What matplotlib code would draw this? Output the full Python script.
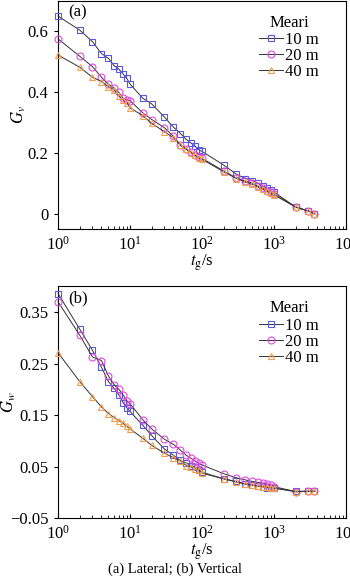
import numpy as np
import matplotlib

matplotlib.use("Agg")
import matplotlib.pyplot as plt

plt.rcParams["font.family"] = ["Liberation Serif", "DejaVu Serif"]
plt.rcParams["mathtext.fontset"] = "stix"

# --- data ---
t_g = [1, 2, 3, 4, 5, 6, 7, 8, 9, 10, 15, 20, 30, 40, 50, 60, 70, 80, 90, 100,
       200, 300, 400, 500, 600, 700, 800, 900, 1000, 2000, 3000, 3600]

gv_10 = [0.650, 0.604, 0.566, 0.527, 0.511, 0.487, 0.475, 0.460, 0.445, 0.426,
         0.380, 0.361, 0.318, 0.285, 0.264, 0.245, 0.233, 0.222, 0.210, 0.205,
         0.160, 0.130, 0.116, 0.109, 0.100, 0.090, 0.084, 0.077, 0.071,
         0.022, 0.009, 0.0]
gv_20 = [0.575, 0.518, 0.484, 0.449, 0.426, 0.413, 0.399, 0.380, 0.375, 0.372,
         0.332, 0.310, 0.283, 0.255, 0.226, 0.214, 0.203, 0.192, 0.187, 0.182,
         0.141, 0.117, 0.108, 0.101, 0.090, 0.084, 0.076, 0.071, 0.065,
         0.022, 0.009, 0.0]
gv_40 = [0.522, 0.482, 0.449, 0.435, 0.418, 0.408, 0.388, 0.375, 0.366, 0.348,
         0.323, 0.297, 0.270, 0.250, 0.225, 0.212, 0.201, 0.192, 0.182, 0.179,
         0.138, 0.116, 0.105, 0.098, 0.087, 0.082, 0.075, 0.068, 0.062,
         0.022, 0.009, 0.0]

gw_10 = [0.386, 0.317, 0.276, 0.243, 0.215, 0.202, 0.189, 0.174, 0.164, 0.157,
         0.130, 0.110, 0.084, 0.072, 0.062, 0.057, 0.052, 0.049, 0.044, 0.039,
         0.026, 0.021, 0.016, 0.014, 0.012, 0.011, 0.009, 0.009, 0.008,
         0.002, 0.002, 0.002]
gw_20 = [0.370, 0.305, 0.263, 0.256, 0.226, 0.209, 0.200, 0.189, 0.178, 0.172,
         0.141, 0.123, 0.103, 0.093, 0.082, 0.072, 0.066, 0.061, 0.056, 0.053,
         0.036, 0.028, 0.024, 0.021, 0.019, 0.018, 0.016, 0.014, 0.011,
         0.001, 0.002, 0.002]
gw_40 = [0.271, 0.215, 0.186, 0.166, 0.153, 0.145, 0.139, 0.134, 0.128, 0.123,
         0.105, 0.091, 0.076, 0.067, 0.061, 0.052, 0.049, 0.046, 0.043, 0.037,
         0.026, 0.020, 0.016, 0.014, 0.012, 0.011, 0.010, 0.009, 0.008,
         0.001, 0.002, 0.002]

labels = ["10 m", "20 m", "40 m"]
colors = ["#5a5ad6", "#e048e0", "#f0a050"]
markers = ["s", "o", "^"]

FS = 12

fig = plt.figure(figsize=(3.5, 5.76), dpi=100)
ax_a = fig.add_axes([0.166, 0.6024, 0.823, 0.396])
ax_b = fig.add_axes([0.166, 0.1007, 0.823, 0.402])


def panel(ax, series, ylim, yticks, yticklabels, ylabel, ylabel_x, tag):
    for ys, lab, c, m in zip(series, labels, colors, markers):
        ax.plot(t_g, ys, color="#333333", lw=0.7, marker=m, ms=5,
                mfc="none", mec=c, mew=0.8, label=lab, clip_on=False, zorder=3)
    ax.set_xscale("log")
    ax.set_xlim(1, 1e4)
    ax.set_ylim(*ylim)
    ax.set_yticks(yticks)
    ax.set_yticklabels(yticklabels)
    ax.tick_params(axis="x", which="major", direction="in", length=3,
                   top=False, labelsize=FS, pad=5)
    ax.tick_params(axis="x", which="minor", direction="in", length=2, top=False)
    ax.tick_params(axis="y", which="major", direction="out", length=3,
                   right=False, labelsize=FS, pad=4)
    for s in ax.spines.values():
        s.set_linewidth(0.8)
    ax.set_xlabel(r"$t_{\rm g}$/s", fontsize=FS, labelpad=-1)
    ax.set_ylabel(ylabel, fontsize=FS)
    ax.yaxis.set_label_coords(ylabel_x, 0.5)
    ax.text(0.035, 0.985, tag, transform=ax.transAxes, fontsize=FS,
            ha="left", va="top")
    leg = ax.legend(title="Meari", loc="upper right", bbox_to_anchor=(0.905, 0.94),
                    frameon=False, fontsize=FS, title_fontsize=FS,
                    handlelength=1.4, handletextpad=0.15, labelspacing=0.0,
                    borderpad=0.0, borderaxespad=0.0)
    leg._legend_box.align = "center"
    leg._legend_box.sep = 1


panel(ax_a, [gv_10, gv_20, gv_40], (-0.05, 0.7), [0, 0.2, 0.4, 0.6],
      ["0", "0.2", "0.4", "0.6"], r"$G_v$", -0.105, "(a)")
panel(ax_b, [gw_10, gw_20, gw_40], (-0.05, 0.4), [-0.05, 0.05, 0.15, 0.25, 0.35],
      ["\u22120.05", "0.05", "0.15", "0.25", "0.35"], r"$G_w$", -0.14, "(b)")

fig.text(0.5, 0.012, "(a) Lateral; (b) Vertical", ha="center", va="center",
         fontsize=10.5)

fig.savefig("out.png", dpi=100)
